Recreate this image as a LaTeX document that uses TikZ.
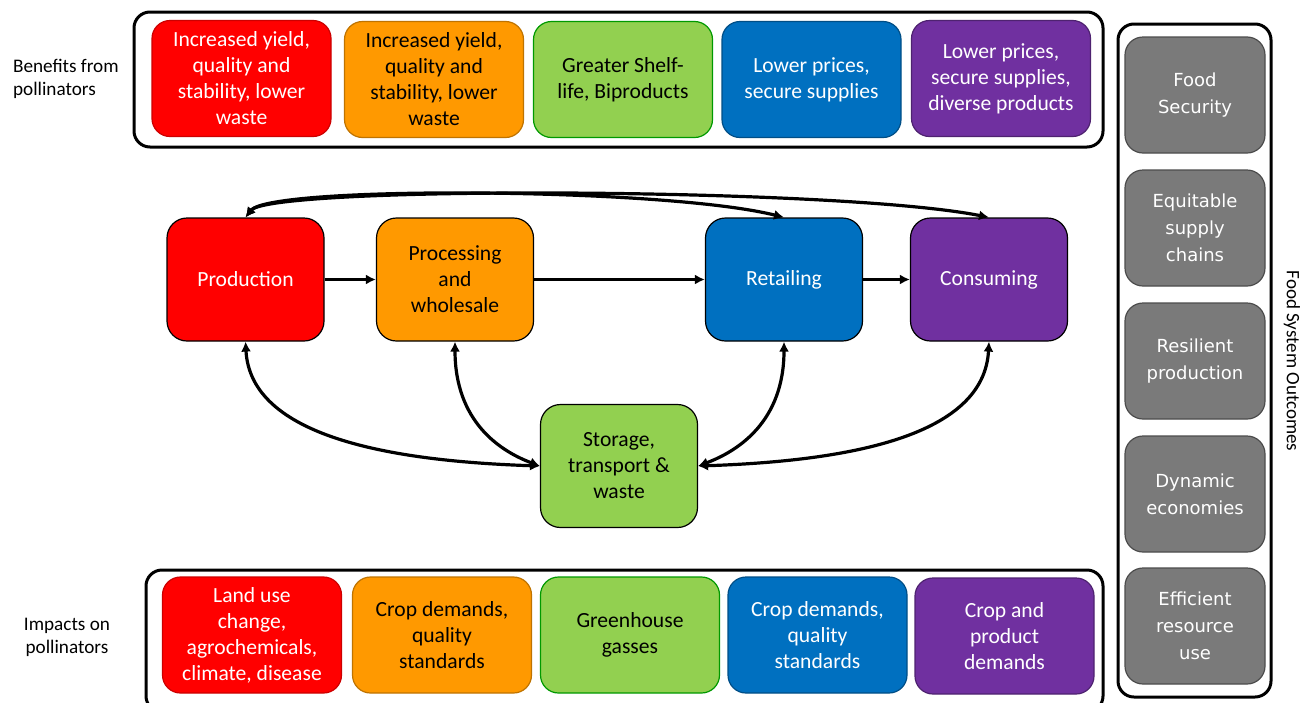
\documentclass[tikz,border=0pt]{standalone}
\usepackage{fontspec}
\setmainfont{Carlito}
\newfontfamily\outfont{DejaVu Sans}
\usetikzlibrary{arrows.meta}
\definecolor{cred}{HTML}{FF0000}
\definecolor{corange}{HTML}{FF9900}
\definecolor{cgreen}{HTML}{92D050}
\definecolor{cblue}{HTML}{0070C0}
\definecolor{cpurple}{HTML}{7030A0}
\definecolor{cgray}{HTML}{7A7A7A}
\begin{document}
\begin{tikzpicture}[x=0.5pt,y=-0.5pt,
    tile/.style={rounded corners=9pt, minimum width=89.5pt, minimum height=58pt, align=center, line width=0.6pt, font=\fontsize{10.8}{13}\selectfont},
    stage/.style={draw=black, rounded corners=10pt, minimum width=78.5pt, minimum height=61.5pt, align=center, line width=0.6pt, font=\fontsize{10.8}{13}\selectfont},
    outcome/.style={draw=black!70, fill=cgray, text=white, rounded corners=9pt, minimum width=70pt, minimum height=58pt, align=center, line width=0.6pt, font=\outfont\fontsize{9}{13.5}\selectfont},
    link/.style={line width=1.6pt, {Latex[length=5pt,width=5pt]}-{Latex[length=5pt,width=5pt]}},
    flow/.style={line width=1.6pt, -{Latex[length=5pt,width=5pt]}},
    frame/.style={line width=1.5pt, rounded corners=8pt}]
                \useasboundingbox (0,0) rectangle (1310,702);

                % frames
                \draw[frame] (134,12) rectangle (1103,147);
                \draw[frame] (146,570) rectangle (1103,712);
                \draw[frame] (1118,24) rectangle (1271,697);

                % benefits
                \node[tile, fill=cred, draw=cred!80!black, text=white] (ben1) at (241.5,78.5) {Increased yield,\\quality and\\stability, lower\\waste};
                \node[tile, fill=corange, draw=corange!75!black] (ben2) at (434,79.5) {Increased yield,\\quality and\\stability, lower\\waste};
                \node[tile, fill=cgreen, draw=green!60!black] (ben3) at (623,79.5) {Greater Shelf-\\life, Biproducts};
                \node[tile, fill=cblue, draw=cblue!70!black, text=white] (ben4) at (811.5,79.5) {Lower prices,\\secure supplies};
                \node[tile, fill=cpurple, draw=cpurple!70!black, text=white] (ben5) at (1001,78.5) {Lower prices,\\secure supplies,\\diverse products};
                \node[align=left, anchor=west, font=\fontsize{9.6}{11.5}\selectfont] (benlab) at (6,78.5) {Benefits from\\pollinators};

                % food system stages
                \node[stage, fill=cred, text=white] (prod) at (245.5,279.5) {Production};
                \node[stage, fill=corange] (proc) at (455,279.5) {Processing\\and\\wholesale};
                \node[stage, fill=cblue, text=white] (ret) at (784,279.5) {Retailing};
                \node[stage, fill=cpurple, text=white] (cons) at (989,279.5) {Consuming};
                \node[stage, fill=cgreen] (stor) at (619,466) {Storage,\\transport \&\\waste};

                \draw[flow] (prod) -- (proc);
                \draw[flow] (proc) -- (ret);
                \draw[flow] (ret) -- (cons);
                \draw[link] (prod.north) .. controls +(25,-32) and +(-120,-30) .. (ret.north);
                \draw[link] (prod.north) .. controls +(25,-32) and +(-150,-30) .. (cons.north);
                \draw[link] (prod.south) .. controls +(5,95) and +(-150,-5) .. (stor.west);
                \draw[link] (proc.south) .. controls +(0,80) and +(-40,-15) .. (stor.west);
                \draw[link] (ret.south) .. controls +(0,80) and +(40,-15) .. (stor.east);
                \draw[link] (cons.south) .. controls +(-5,95) and +(150,-5) .. (stor.east);

                % impacts
                \node[tile, fill=cred, draw=cred!80!black, text=white] (imp1) at (252,635) {Land use\\change,\\agrochemicals,\\climate, disease};
                \node[tile, fill=corange, draw=corange!75!black] (imp2) at (442,635) {Crop demands,\\quality\\standards};
                \node[tile, fill=cgreen, draw=green!60!black] (imp3) at (630,635) {Greenhouse\\gasses};
                \node[tile, fill=cblue, draw=cblue!70!black, text=white] (imp4) at (817.5,635) {Crop demands,\\quality\\standards};
                \node[tile, fill=cpurple, draw=cpurple!70!black, text=white] (imp5) at (1004.5,636) {Crop and\\product\\demands};
                \node[align=center, font=\fontsize{9.6}{11.5}\selectfont] (implab) at (67,637.5) {Impacts on\\pollinators};

                % outcomes
                \node[outcome] (out1) at (1195,95) {Food\\Security};
                \node[outcome] (out2) at (1195,228) {Equitable\\supply\\chains};
                \node[outcome] (out3) at (1195,361) {Resilient\\production};
                \node[outcome] (out4) at (1195,494) {Dynamic\\economies};
                \node[outcome] (out5) at (1195,626) {Efficient\\resource\\use};
                \node[rotate=-90, font=\fontsize{9.5}{11}\selectfont] (outlab) at (1292,361) {Food System Outcomes};
            \end{tikzpicture}
\end{document}
